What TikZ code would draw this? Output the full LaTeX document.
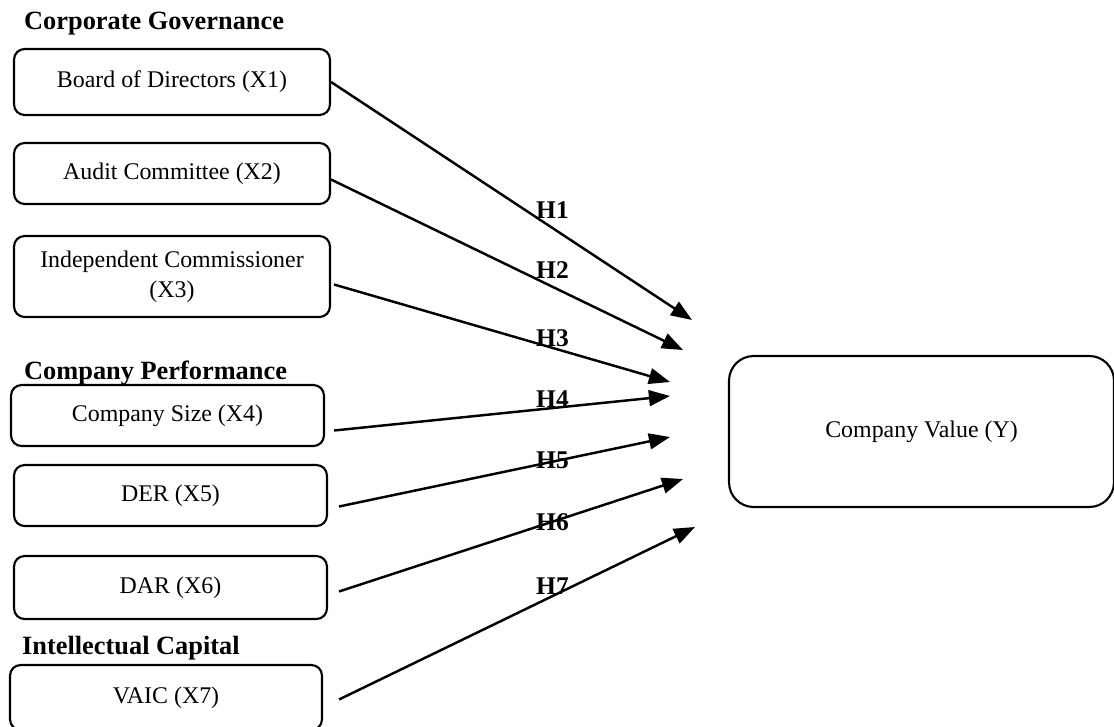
\documentclass[tikz,border=0pt]{standalone}
\usepackage{fontspec}
\setmainfont{Liberation Serif}
\usetikzlibrary{arrows.meta, positioning}

\begin{document}
\begin{tikzpicture}[
		x=0.02cm, y=-0.02cm,
		var/.style={rectangle, draw=black, line width=1.2pt, rounded corners=6pt, minimum width=6.32cm, minimum height=1.22cm, align=center, font=\fontsize{13.6}{17}\selectfont},
		target/.style={rectangle, draw=black, line width=1.2pt, rounded corners=14pt, minimum width=7.7cm, minimum height=3.02cm, font=\fontsize{13.6}{17}\selectfont},
		group/.style={anchor=west, font=\fontsize{15}{17}\selectfont\bfseries},
		hyp/.style={anchor=west, font=\fontsize{14.5}{16}\selectfont\bfseries},
		arrow/.style={-{Triangle[length=12pt, width=9pt]}, line width=1.4pt},
		]
		\useasboundingbox (0,0) rectangle (1114,726);
		
		% ---- groups of variables (left) ----
		\node[group] (g1) at (18,24) {Corporate Governance};
		\node[var, minimum height=1.32cm] (x1) at (172,82) {Board of Directors (X1)};
		\node[var] (x2) at (172,173.5) {Audit Committee (X2)};
		\node[var, minimum height=1.62cm] (x3) at (172,276.5) {Independent Commissioner\\(X3)};
		
		\node[group] (g2) at (18,373) {Company Performance};
		\node[var, minimum width=6.26cm] (x4) at (167.5,415.5) {Company Size (X4)};
		\node[var, minimum width=6.26cm] (x5) at (170.5,495.5) {DER (X5)};
		\node[var, minimum width=6.26cm, minimum height=1.26cm] (x6) at (170.5,587.5) {DAR (X6)};
		
		\node[group] (g3) at (16,648) {Intellectual Capital};
		\node[var, minimum width=6.24cm, minimum height=1.3cm] (x7) at (166,697.5) {VAIC (X7)};
		
		% ---- dependent variable (right) ----
		\node[target] (y) at (921.5,431.5) {Company Value (Y)};
		
		% arrow tips stop short of the target box
		\coordinate (t1) at (692,320);
		\coordinate (t2) at (683,350);
		\coordinate (t3) at (670,382);
		\coordinate (t4) at (670,396);
		\coordinate (t5) at (670,437);
		\coordinate (t6) at (683,479);
		\coordinate (t7) at (695,527);
		
		\draw[arrow] (x1.east) -- (t1);
		\draw[arrow] ([shift={(0,6)}]x2.east) -- (t2);
		\draw[arrow] ([shift={(3,8)}]x3.east) -- (t3);
		\draw[arrow] ([shift={(9,15)}]x4.east) -- (t4);
		\draw[arrow] ([shift={(11,11)}]x5.east) -- (t5);
		\draw[arrow] ([shift={(11,4)}]x6.east) -- (t6);
		\draw[arrow] ([shift={(16,2)}]x7.east) -- (t7);
		
		% hypothesis labels
		\node[hyp] (h1) at (530,210) {H1};
		\node[hyp] (h2) at (530,270) {H2};
		\node[hyp] (h3) at (530,338) {H3};
		\node[hyp] (h4) at (530,399) {H4};
		\node[hyp] (h5) at (530,460) {H5};
		\node[hyp] (h6) at (530,522) {H6};
		\node[hyp] (h7) at (530,586) {H7};
		
	\end{tikzpicture}
\end{document}
